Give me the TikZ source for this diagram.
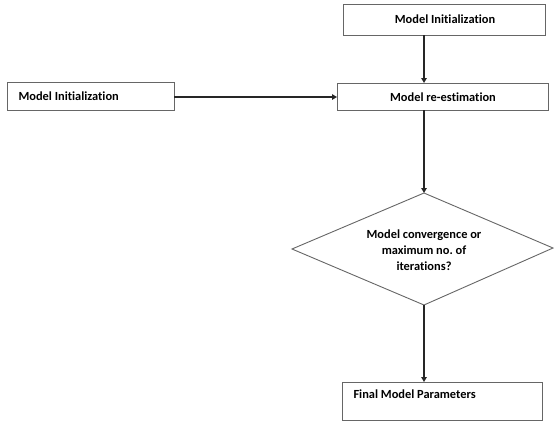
\documentclass[tikz,border=0pt]{standalone}
\usepackage{fontspec}
\setmainfont{Carlito}[Ligatures={NoCommon}]
\usetikzlibrary{arrows.meta,shapes.geometric}
\frenchspacing
\begin{document}
\begin{tikzpicture}[x=1pt,y=-1pt,
  box/.style={draw=black!60,line width=0.9pt,fill=white},
  lbl/.style={font=\bfseries\fontsize{12.4}{16}\selectfont},
  conn/.style={draw=black!85,line width=1.3pt,-{Triangle[length=5pt,width=5.5pt]}}]
\useasboundingbox (0,0) rectangle (554,421);
% boxes
\draw[box] (343,4) rectangle (545,35);
\node[lbl] (init1) at (445,19.5) {Model Initialization};
\coordinate (init1s) at (424,35);
\draw[box] (7,82) rectangle (174,110);
\node[lbl,anchor=west] (init2) at (15,96) {Model Initialization};
\coordinate (init2e) at (174,97);
\draw[box] (337,83) rectangle (548,110);
\node[lbl] (reest) at (443,97) {Model re-estimation};
\coordinate (reestn) at (424,83);
\coordinate (reestw) at (337,97);
\coordinate (reests) at (424,110);
% decision
\draw[box] (424,193) -- (553,248) -- (424,305) -- (292,249) -- cycle;
\node[lbl,align=center] (dec) at (424,250) {Model convergence or\\maximum no.\ of\\iterations?};
\coordinate (decn) at (424,193);
\coordinate (decs) at (424,305);
% result
\draw[box] (342,382) rectangle (542,420);
\node[lbl,anchor=west] (final) at (350,394) {Final Model Parameters};
\coordinate (finaln) at (424,382);
% connectors
\draw[conn] (init1s) -- (reestn);
\draw[conn] (init2e) -- (reestw);
\draw[conn] (reests) -- (decn);
\draw[conn] (decs) -- (finaln);
\end{tikzpicture}
\end{document}
